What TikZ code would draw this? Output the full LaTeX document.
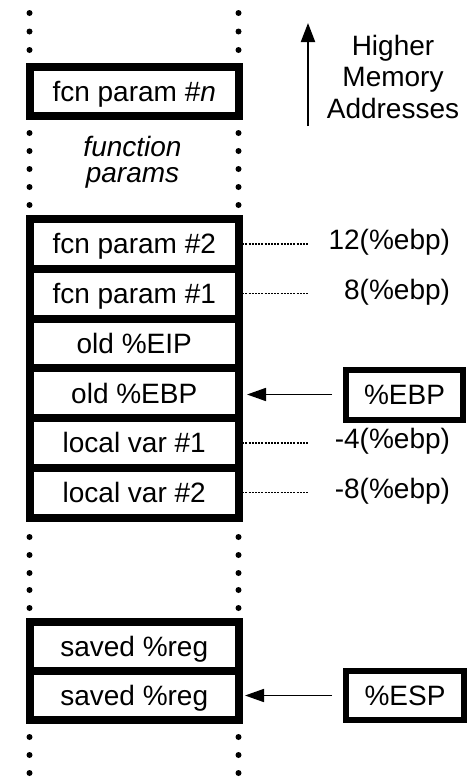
\documentclass[tikz,border=0pt]{standalone}
\usepackage{fontspec}
\setmainfont{Liberation Sans}
\usetikzlibrary{arrows.meta}
\begin{document}
\begin{tikzpicture}[x=1pt,y=-1pt,
  every node/.style={inner sep=0pt, outer sep=0pt},
  big/.style={font=\fontsize{28}{32}\selectfont},
  txt/.style={big, text height=20pt, text depth=0pt},
  cell/.style={txt, draw, line width=8pt, minimum width=209.5pt, minimum height=49.75pt},
  regbox/.style={txt, draw, line width=6pt, minimum width=117pt, minimum height=50pt},
  offset/.style={big, anchor=east},
  guide/.style={line width=1.3pt, dash pattern=on 2pt off 1.2pt},
  ptr/.style={line width=1.7pt, -{Triangle[length=19pt,width=13pt]}},
  updir/.style={line width=2pt, -{Triangle[length=19pt,width=14pt]}},
  stackdot/.style={fill=black}]
\useasboundingbox[fill=white] (0,0) rectangle (473,779);

% continuation dots along both edges of the stack
\foreach \y in {13,31.5,50, 133,151,169,187,205, 537,555,573,590,608, 737,755,773}{
  \fill[stackdot] (29.5,\y) circle[radius=3pt];
  \fill[stackdot] (238.5,\y) circle[radius=3pt];
}

% topmost parameter
\node[cell, minimum height=49pt] (pn) at (134.25,91) {fcn param \#\textit{n}};
\node[big, align=center, font=\fontsize{28}{25.5}\selectfont\itshape] (fparams) at (132.5,162.5) {function\\params};

% frame of the current call
\node[cell] (p2)  at (134.25,243.875) {fcn param \#2};
\node[cell] (p1)  at (134.25,293.625) {fcn param \#1};
\node[cell] (eip) at (134.25,343.375) {old \%EIP};
\node[cell] (ebp) at (134.25,393.125) {old \%EBP};
\node[cell] (lv1) at (134.25,442.875) {local var \#1};
\node[cell] (lv2) at (134.25,492.625) {local var \#2};

% saved registers at the bottom of the stack
\node[cell, minimum height=49pt] (sr1) at (134.25,646.5) {saved \%reg};
\node[cell, minimum height=49pt] (sr2) at (134.25,695.5) {saved \%reg};

% offsets relative to the frame pointer
\coordinate (gend) at (308,0);
\node[offset] (o12) at (450,242) {12(\%ebp)};
\node[offset] (o8)  at (450,292) {8(\%ebp)};
\node[offset] (om4) at (450,441.5) {-4(\%ebp)};
\node[offset] (om8) at (450,491) {-8(\%ebp)};
\draw[guide] (p2.east)  -- (p2.east -| gend);
\draw[guide] (p1.east)  -- (p1.east -| gend);
\draw[guide] (lv1.east) -- (lv1.east -| gend);
\draw[guide] (lv2.east) -- (lv2.east -| gend);

% registers pointing into the stack
\node[regbox] (rebp) at (404.5,394.5) {\%EBP};
\node[regbox, minimum width=118pt, minimum height=49pt] (resp) at (405,695.5) {\%ESP};
\draw[ptr, shorten <=14pt, shorten >=8pt] (rebp.west) -- (rebp.west -| ebp.east);
\draw[ptr, shorten <=14pt, shorten >=6pt] (resp.west) -- (resp.west -| sr2.east);

% direction of higher addresses
\coordinate (uplow) at (308,126);
\coordinate (uphigh) at (308,23);
\draw[updir] (uplow) -- (uphigh);
\node[big, align=center, font=\fontsize{28}{31.5}\selectfont] (hma) at (393,76.5) {Higher\\Memory\\Addresses};
\end{tikzpicture}
\end{document}
